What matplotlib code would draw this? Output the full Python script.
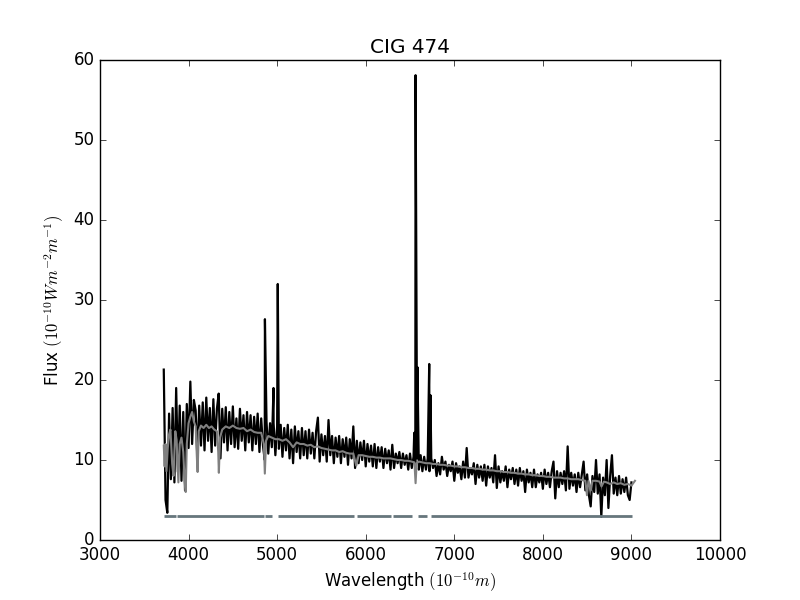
import numpy as np
import matplotlib
matplotlib.use("Agg")
import matplotlib.pyplot as plt

obs_start = 3720
obs_step = 20
obs_flux = [
    21.3, 5.0, 3.4, 15.8, 7.6, 16.5, 7.2, 19.0, 8.5, 16.8,
    7.4, 16.0, 6.2, 17.0, 11.5, 19.8, 12.0, 17.5, 16.2, 10.0,
    16.8, 11.8, 17.2, 11.2, 17.8, 12.4, 16.5, 11.0, 17.6, 11.8,
    16.4, 18.3, 10.2, 16.4, 12.2, 16.6, 11.2, 16.0, 12.0, 16.7,
    11.6, 15.2, 11.4, 16.4, 12.4, 15.6, 11.2, 16.0, 12.2, 15.6,
    11.2, 15.4, 12.0, 15.8, 11.0, 15.2, 11.8, 10.0, 14.8, 10.8,
    14.6, 11.6, 14.6, 10.6, 14.2, 11.4, 14.4, 10.4, 14.0, 11.2,
    14.4, 10.2, 13.8, 9.6, 14.2, 11.0, 13.6, 10.2, 14.0, 10.6,
    13.6, 10.2, 13.8, 10.8, 13.4, 10.2, 13.6, 15.3, 9.8, 13.2,
    10.6, 13.0, 9.8, 15.0, 10.6, 13.0, 9.6, 12.8, 10.4, 13.0,
    9.6, 12.6, 10.4, 12.8, 9.4, 12.6, 10.2, 14.2, 9.0, 12.4,
    9.6, 12.2, 10.0, 12.4, 9.2, 12.0, 9.8, 11.8, 9.2, 12.0,
    9.0, 11.6, 9.8, 11.6, 9.0, 11.4, 9.6, 11.2, 8.8, 11.9,
    9.0, 10.8, 9.6, 11.0, 9.0, 10.8, 9.4, 10.6, 8.8, 10.8,
    9.0, 10.4, 9.0, 10.2, 8.8, 10.6, 8.6, 10.4, 8.8, 10.2,
    8.6, 10.2, 9.0, 10.0, 8.0, 9.6, 8.2, 10.4, 8.8, 9.8,
    8.0, 9.4, 8.6, 9.8, 7.4, 9.6, 8.4, 9.2, 7.6, 9.8,
    7.8, 11.5, 7.8, 9.0, 8.2, 9.6, 7.0, 9.4, 7.8, 9.2,
    7.4, 9.4, 6.8, 9.2, 7.8, 9.0, 7.2, 10.6, 6.5, 9.2,
    7.2, 8.6, 7.4, 9.2, 6.6, 8.8, 7.6, 9.0, 7.0, 8.8,
    6.8, 9.0, 7.4, 8.6, 6.0, 8.8, 7.2, 8.4, 6.6, 8.8,
    6.6, 8.2, 7.2, 8.4, 6.4, 8.8, 7.0, 8.4, 6.6, 8.6,
    9.8, 5.2, 8.6, 6.6, 8.4, 7.0, 8.6, 6.2, 11.7, 6.4,
    8.4, 6.8, 8.2, 6.0, 8.4, 6.6, 8.2, 9.8, 6.2, 8.2,
    5.6, 4.2, 8.0, 6.0, 10.0, 5.8, 8.2, 2.9, 7.8, 5.6,
    10.0, 4.0, 8.0, 10.6, 5.8, 7.8, 5.6, 8.0, 5.8, 7.6,
    6.0, 7.8, 5.6, 5.0, 7.2,
]

# emission line peaks (Hb, [OIII], [NII], Ha, [NII], [SII])
line_wave = [4862, 4959, 5007, 6548, 6563, 6584, 6717, 6731]
line_peak = [27.6, 19.0, 32.0, 13.4, 58.1, 21.6, 22.0, 18.1]

# synthetic (model) spectrum
model_wave = [
    3720, 3730, 3740, 3750, 3765, 3780, 3795, 3815, 3830, 3850,
    3865, 3885, 3900, 3920, 3940, 3955, 3968, 3980, 4000, 4020,
    4040, 4060, 4080, 4095, 4102, 4115, 4140, 4170, 4200, 4230,
    4260, 4290, 4320, 4335, 4342, 4355, 4380, 4420, 4460, 4500,
    4540, 4580, 4620, 4660, 4700, 4740, 4780, 4820, 4850, 4861,
    4875, 4900, 4940, 4980, 5020, 5060, 5100, 5140, 5180, 5220,
    5260, 5300, 5340, 5380, 5420, 5460, 5500, 5540, 5580, 5620,
    5660, 5700, 5740, 5780, 5820, 5860, 5893, 5920, 5960, 6000,
    6040, 6080, 6120, 6160, 6200, 6240, 6280, 6320, 6360, 6400,
    6440, 6480, 6520, 6550, 6563, 6575, 6600, 6640, 6680, 6720,
    6760, 6800, 6840, 6880, 6920, 6960, 7000, 7040, 7080, 7120,
    7160, 7200, 7240, 7280, 7320, 7360, 7400, 7440, 7480, 7520,
    7560, 7600, 7640, 7680, 7720, 7760, 7800, 7840, 7880, 7920,
    7960, 8000, 8040, 8080, 8120, 8160, 8200, 8240, 8280, 8320,
    8360, 8400, 8440, 8480, 8498, 8515, 8542, 8560, 8600, 8640,
    8662, 8690, 8720, 8760, 8800, 8840, 8880, 8920, 8960, 9000,
    9040,
]
model_flux = [
    11.8, 9.2, 12.0, 8.6, 11.5, 13.2, 13.8, 9.5, 8.0, 13.6,
    12.5, 7.2, 12.0, 12.8, 11.0, 7.5, 6.0, 12.0, 14.6, 15.4,
    16.0, 14.8, 14.2, 10.0, 8.5, 13.6, 14.3, 14.0, 14.4, 14.0,
    14.2, 13.8, 13.6, 11.0, 8.4, 12.8, 13.8, 14.2, 14.0, 14.3,
    14.0, 13.9, 14.0, 13.6, 13.8, 13.5, 13.4, 13.4, 12.0, 8.3,
    12.4, 13.0, 12.8, 12.6, 12.6, 12.4, 12.6, 12.2, 11.6, 12.2,
    12.0, 12.0, 11.8, 11.9, 11.6, 11.7, 11.5, 11.4, 11.3, 11.2,
    11.2, 11.0, 11.1, 10.9, 10.8, 10.8, 9.3, 10.6, 10.6, 10.5,
    10.4, 10.4, 10.3, 10.3, 10.2, 10.2, 10.2, 10.1, 10.0, 10.0,
    9.9, 9.9, 9.8, 9.7, 7.1, 9.6, 9.8, 9.7, 9.6, 9.6,
    9.5, 9.5, 9.4, 9.4, 9.3, 9.3, 9.2, 9.2, 9.1, 9.1,
    9.0, 9.0, 8.9, 8.9, 8.8, 8.8, 8.7, 8.7, 8.6, 8.6,
    8.5, 8.5, 8.4, 8.4, 8.3, 8.3, 8.2, 8.2, 8.1, 8.1,
    8.0, 8.0, 7.9, 7.9, 7.8, 7.8, 7.8, 7.7, 7.7, 7.6,
    7.6, 7.6, 7.5, 7.4, 5.6, 7.4, 6.2, 7.4, 7.4, 7.3,
    6.7, 7.3, 7.2, 7.0, 7.2, 7.0, 7.1, 6.9, 7.0, 6.8,
    7.4,
]

# pixels used in the fit (drawn as a flat line at flux = 3)
mask_start = [3723, 3869, 4863, 5010, 5902, 6308, 6590, 6737]
mask_end = [3855, 4852, 4942, 5868, 6286, 6523, 6692, 9006]
mask_level = 3


def main():
    plt.style.use('classic')

    obs_wave = obs_start + obs_step * np.arange(len(obs_flux))
    wave = np.concatenate([obs_wave, line_wave])
    flux = np.concatenate([obs_flux, line_peak])
    order = np.argsort(wave, kind='stable')

    fig = plt.figure(figsize=(8, 6), facecolor='white')
    ax = fig.add_subplot(111)

    ax.plot(wave[order], flux[order], color='k', lw=1.6)
    ax.plot(model_wave, model_flux, color='0.5', lw=1.5)
    ax.hlines([mask_level] * len(mask_start), mask_start, mask_end,
              color='#66767c', lw=2)

    ax.set_xlim(3000, 10000)
    ax.set_ylim(0, 60)
    ax.set_title('CIG 474')
    ax.set_xlabel(r'Wavelength $(10^{-10} m)$')
    ax.set_ylabel(r'Flux $(10^{-10} W m^{-2} m^{-1})$')

    fig.savefig('out.png', dpi=100, facecolor='white')


if __name__ == "__main__":
    main()
